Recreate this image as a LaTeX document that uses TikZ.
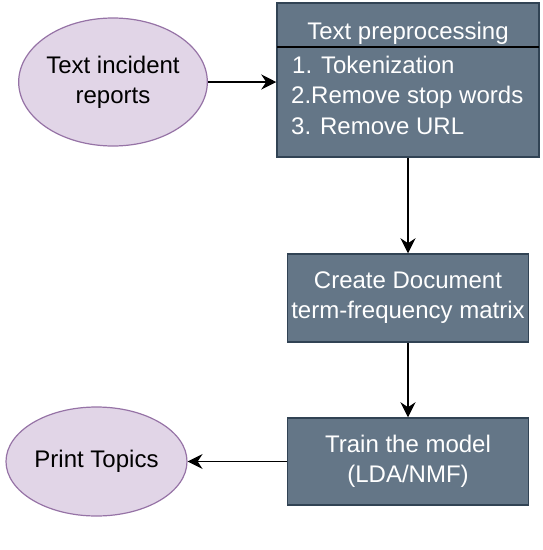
\documentclass[tikz,border=0pt]{standalone}
\usepackage{fontspec}
\setmainfont{Liberation Sans}
\usetikzlibrary{arrows.meta,shapes.geometric}
\definecolor{slatefill}{HTML}{647687}
\definecolor{slatedraw}{HTML}{314354}
\definecolor{lilacfill}{HTML}{E1D5E7}
\definecolor{lilacdraw}{HTML}{9673A6}
\begin{document}
\begin{tikzpicture}[x=1pt,y=-1pt,
  bigfont/.style={font=\fontsize{24}{30}\selectfont},
  procbox/.style={draw=slatedraw, fill=slatefill, line width=1.5pt, inner sep=0pt,
    text=white, bigfont, align=center},
  oval/.style={ellipse, draw=lilacdraw, fill=lilacfill, line width=1.2pt, inner sep=0pt,
    text=black, bigfont, align=center},
  wtext/.style={text=white, bigfont, inner sep=0pt},
  conn/.style={line width=1.5pt, -{Stealth[length=15pt,width=15pt,inset=5pt]}}
]
\useasboundingbox (0,0) rectangle (542,550);

% top process box
\node[procbox, minimum width=262pt, minimum height=154pt] (b1) at (408,80) {};
\node[wtext, anchor=base] (b1t) at (408,39) {Text preprocessing};
\coordinate (hl) at (277,47);
\coordinate (hr) at (539,47);
\draw[line width=1.8pt, black] (hl) -- (hr);
\node[wtext, anchor=base west] (i1) at (292,73) {1. Tokenization};
\node[wtext, anchor=base west] (i2) at (291,103) {2.Remove stop words};
\node[wtext, anchor=base west] (i3) at (291,134) {3. Remove URL};

% other boxes
\node[procbox, minimum width=241pt, minimum height=88pt] (b2) at (408,298) {Create Document\\term-frequency matrix};
\node[procbox, minimum width=241pt, minimum height=87pt] (b3) at (408,461.5) {Train the model\\(LDA/NMF)};

% ellipses
\node[oval, minimum width=162pt, minimum height=128pt] (e1) at (113,82) {Text incident\\reports};
\node[oval, minimum width=181pt, minimum height=109pt] (e2) at (96.5,461.5) {Print Topics};

% connectors
\draw[conn] (e1.east) -- (e1.east -| b1.west);
\draw[conn] (b1.south) -- (b2.north);
\draw[conn] (b2.south) -- (b3.north);
\draw[conn] (b3.west) -- (e2.east);
\end{tikzpicture}
\end{document}
